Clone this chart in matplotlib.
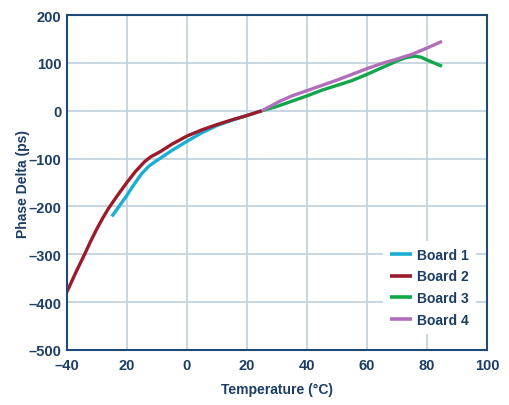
import matplotlib
matplotlib.use("Agg")
import matplotlib.pyplot as plt

plt.rcParams['font.family'] = ['Liberation Sans', 'DejaVu Sans']
plt.rcParams['font.weight'] = 'bold'

board1_t = [-25, -22.5, -20, -17.5, -15, -12.5, -10, -5, 0, 5, 10, 15, 20, 25]
board1_v = [-221, -199, -177, -153, -131, -115, -104, -83, -64, -46, -31, -20, -10, 0]

board2_t = [-40, -37, -34, -32, -30, -28, -26, -23, -20, -17, -14, -12, -9, -5, 0, 5, 10, 15, 20, 25]
board2_v = [-379, -338, -299, -272, -247, -224, -203, -176, -150, -126, -106, -96, -86, -70, -53, -40, -29, -19, -10, 0]

board3_t = [25, 30, 35, 40, 45, 50, 55, 60, 65, 70, 73, 76, 78, 80, 85]
board3_v = [0, 9, 20, 31, 43, 53, 63, 76, 90, 104, 111, 114, 112, 106, 93]

board4_t = [25, 28, 31, 35, 40, 45, 50, 55, 60, 65, 70, 75, 80, 85]
board4_v = [0, 10, 20, 31, 42, 53, 64, 76, 88, 99, 108, 118, 131, 145]

x_ticks = [-40, -20, 0, 20, 40, 60, 80, 100]
x_labels = ['–40', '20', '0', '20', '40', '60', '80', '100']
y_ticks = [-500, -400, -300, -200, -100, 0, 100, 200]
y_labels = ['–500', '–400', '–300', '–200', '–100', '0', '100', '200']

navy = '#1B3D66'
spine = '#1F4A75'
grid = '#C3D3DE'

fig = plt.figure(figsize=(5.10, 4.06), dpi=100)
ax = fig.add_axes([0.131, 0.1355, 0.824, 0.825])

ax.plot(board1_t, board1_v, color='#1AAED6', lw=2.4, label='Board 1', solid_capstyle='butt')
ax.plot(board2_t, board2_v, color='#9A1B2C', lw=2.4, label='Board 2', solid_capstyle='butt')
ax.plot(board3_t, board3_v, color='#12A64B', lw=2.4, label='Board 3', solid_capstyle='butt')
ax.plot(board4_t, board4_v, color='#B26FB9', lw=2.4, label='Board 4', solid_capstyle='butt')

ax.set_xlim(-40, 100)
ax.set_ylim(-500, 200)
ax.set_xticks(x_ticks)
ax.set_xticklabels(x_labels)
ax.set_yticks(y_ticks)
ax.set_yticklabels(y_labels)
ax.tick_params(length=0, labelsize=10.5, colors=navy)
ax.tick_params(axis='x', pad=6)
ax.tick_params(axis='y', pad=4)
for lab in ax.get_xticklabels() + ax.get_yticklabels():
    lab.set_fontweight('bold')

ax.grid(True, color=grid, lw=1.3)
ax.set_axisbelow(True)
for s in ax.spines.values():
    s.set_color(spine)
    s.set_linewidth(1.5)

ax.set_xlabel('Temperature (°C)', fontsize=10, fontweight='bold', color=navy, labelpad=7)
ax.set_ylabel('Phase Delta (ps)', fontsize=10, fontweight='bold', color=navy, labelpad=-1)

leg = ax.legend(loc='lower right', bbox_to_anchor=(0.974, 0.048), frameon=True, fontsize=10,
                handlelength=1.6, handletextpad=0.36, labelspacing=0.56, borderpad=0.5,
                borderaxespad=0)
leg.get_frame().set_facecolor('white')
leg.get_frame().set_edgecolor('none')
leg.get_frame().set_alpha(1)
for t in leg.get_texts():
    t.set_color(navy)
    t.set_fontweight('bold')
for h in leg.get_lines():
    h.set_linewidth(2.6)

fig.savefig('out.png', dpi=100)
